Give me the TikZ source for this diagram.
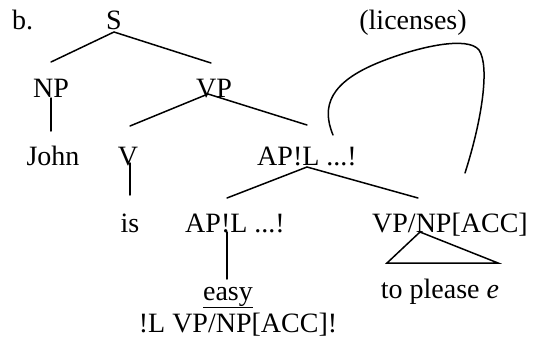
\documentclass[tikz,border=0pt]{standalone}
\usepackage{fontspec}
\setmainfont{Liberation Serif}
\begin{document}
\begin{tikzpicture}[x=1pt,y=-1pt,
  lbl/.style={anchor=base,inner sep=0pt,font=\fontsize{28}{32}\selectfont},
  branch/.style={line width=1.5pt,line cap=round}]
\useasboundingbox (0,0) rectangle (533,340);

% labels
\node[lbl,anchor=base west] (ex) at (12,29) {b.};
\node[lbl] (s) at (114,29) {S};
\node[lbl] (lic) at (413,29) {(licenses)};
\node[lbl] (np) at (51,97) {NP};
\node[lbl] (vp) at (214,97) {VP};
\node[lbl] (john) at (53,165) {John};
\node[lbl] (v) at (128,165) {V};
\node[lbl] (ap1) at (307,165) {AP!L ...!};
\node[lbl] (is) at (130,232) {is};
\node[lbl] (ap2) at (235,232) {AP!L ...!};
\node[lbl] (vpnp) at (450,232) {VP/NP[ACC]};
\node[lbl] (easy) at (228,300) {\underline{easy}};
\node[lbl] (sub) at (238,332) {!L VP/NP[ACC]!};
\node[lbl] (tp) at (440,298) {to please \textit{e}};

% branch points
\coordinate (s-b) at (114,32);
\coordinate (np-t) at (51,62);
\coordinate (vp-t) at (211,63);
\coordinate (np-b) at (51,98);
\coordinate (john-t) at (51,131);
\coordinate (vp-b) at (208,94);
\coordinate (v-t) at (130,126);
\coordinate (ap1-t) at (307,125);
\coordinate (v-b) at (130,163);
\coordinate (is-t) at (130,195);
\coordinate (ap1-b) at (307,167);
\coordinate (ap2-t) at (227,198);
\coordinate (vpnp-t) at (418,198);
\coordinate (ap2-b) at (227,232);
\coordinate (easy-t) at (227,279);
\coordinate (tri-a) at (420,232);
\coordinate (tri-l) at (387,263);
\coordinate (tri-r) at (498,263);
\coordinate (arc-s) at (333,135);
\coordinate (arc-e) at (465,173);

% tree
\draw[branch] (np-t) -- (s-b) -- (vp-t);
\draw[branch] (np-b) -- (john-t);
\draw[branch] (v-t) -- (vp-b) -- (ap1-t);
\draw[branch] (v-b) -- (is-t);
\draw[branch] (ap2-t) -- (ap1-b) -- (vpnp-t);
\draw[branch] (ap2-b) -- (easy-t);
\draw[branch,line join=miter] (tri-a) -- (tri-l) -- (tri-r) -- cycle;

% licensing arc
\draw[branch] (arc-s) .. controls (321,106) and (330,82) .. (380,62)
  .. controls (420,46) and (468,36) .. (479,50)
  .. controls (490,66) and (482,120) .. (arc-e);
\end{tikzpicture}
\end{document}
